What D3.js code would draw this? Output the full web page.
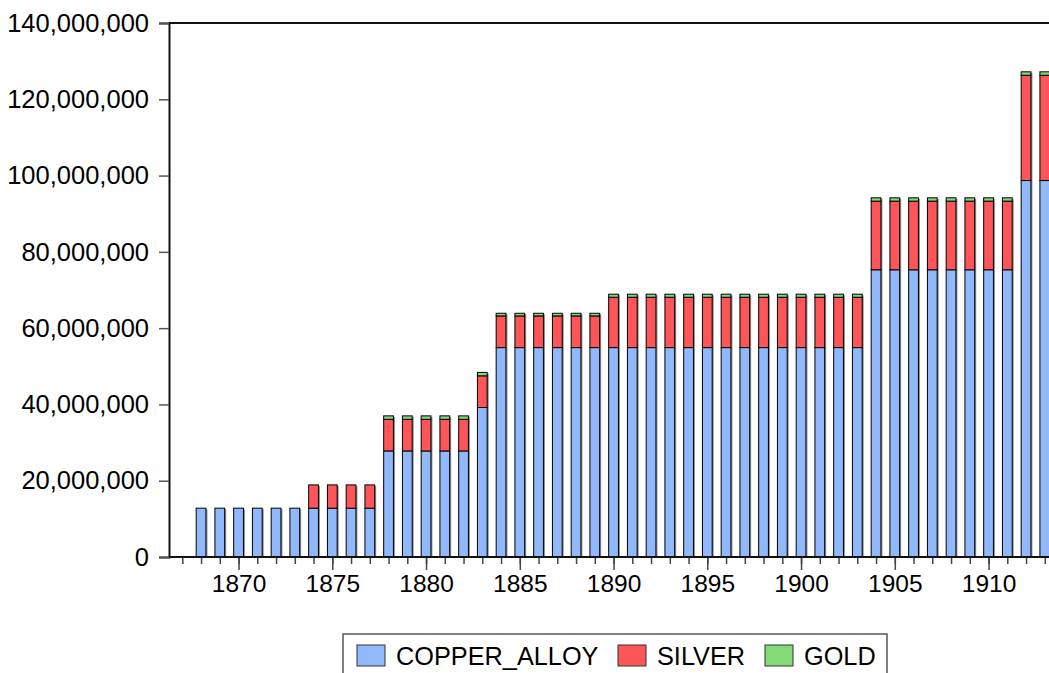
<!DOCTYPE html>
<html>
<head>
<meta charset="utf-8">
<script src="https://cdn.jsdelivr.net/npm/d3@7"></script>
<style>
  html, body { margin: 0; padding: 0; background: #fff; }
  svg { display: block; font-family: Arial, 'Liberation Sans', sans-serif; }
</style>
</head>
<body>
<div id="chart"></div>
<script>
// Coin mintage by metal, 1868-1913
const years = d3.range(1868, 1914);
const copperAlloy = [
  12.8e6, 12.8e6, 12.8e6, 12.8e6, 12.8e6, 12.8e6,
  12.8e6, 12.8e6, 12.8e6, 12.8e6,
  27.8e6, 27.8e6, 27.8e6, 27.8e6, 27.8e6,
  39.2e6,
  54.9e6, 54.9e6, 54.9e6, 54.9e6, 54.9e6, 54.9e6,
  54.9e6, 54.9e6, 54.9e6, 54.9e6, 54.9e6, 54.9e6, 54.9e6,
  54.9e6, 54.9e6, 54.9e6, 54.9e6, 54.9e6, 54.9e6, 54.9e6,
  75.3e6, 75.3e6, 75.3e6, 75.3e6, 75.3e6, 75.3e6, 75.3e6, 75.3e6,
  98.7e6, 98.7e6
];
const silver = [
  0, 0, 0, 0, 0, 0,
  6.1e6, 6.1e6, 6.1e6, 6.1e6,
  8.3e6, 8.3e6, 8.3e6, 8.3e6, 8.3e6,
  8.3e6,
  8.3e6, 8.3e6, 8.3e6, 8.3e6, 8.3e6, 8.3e6,
  13.2e6, 13.2e6, 13.2e6, 13.2e6, 13.2e6, 13.2e6, 13.2e6,
  13.2e6, 13.2e6, 13.2e6, 13.2e6, 13.2e6, 13.2e6, 13.2e6,
  18.0e6, 18.0e6, 18.0e6, 18.0e6, 18.0e6, 18.0e6, 18.0e6, 18.0e6,
  27.6e6, 27.6e6
];
const gold = [
  0, 0, 0, 0, 0, 0,
  0, 0, 0, 0,
  0.9e6, 0.9e6, 0.9e6, 0.9e6, 0.9e6,
  0.9e6,
  0.7e6, 0.7e6, 0.7e6, 0.7e6, 0.7e6, 0.7e6,
  0.8e6, 0.8e6, 0.8e6, 0.8e6, 0.8e6, 0.8e6, 0.8e6,
  0.8e6, 0.8e6, 0.8e6, 0.8e6, 0.8e6, 0.8e6, 0.8e6,
  0.87e6, 0.87e6, 0.87e6, 0.87e6, 0.87e6, 0.87e6, 0.87e6, 0.87e6,
  0.9e6, 0.9e6
];
const seriesNames = ['COPPER_ALLOY', 'SILVER', 'GOLD'];
const yTicks = [0, 20e6, 40e6, 60e6, 80e6, 100e6, 120e6, 140e6];

const W = 1049, H = 673;
const plotLeft = 169, plotTop = 23, plotBottom = 557;
const colors = ['#90b8fb', '#fd5558', '#83d977'];
const fontFamily = "Arial, 'Liberation Sans', sans-serif";

const svg = d3.select('#chart').append('svg')
  .attr('width', W).attr('height', H);

const x = d3.scaleLinear().domain([1867, 1913]).range([182.3, 1044.8]);
const step = x(1868) - x(1867);
const bw = step * 0.52;
const y = d3.scaleLinear().domain([0, 140e6]).range([plotBottom, plotTop]);

// stack the three series
const rows = years.map((yr, i) => ({ year: yr, COPPER_ALLOY: copperAlloy[i], SILVER: silver[i], GOLD: gold[i] }));
const stacked = d3.stack().keys(seriesNames)(rows);
const total = d => d.COPPER_ALLOY + d.SILVER + d.GOLD;

// bar shadows
svg.append('g').selectAll('rect')
  .data(rows.filter(d => total(d) > 0))
  .join('rect')
  .attr('x', d => x(d.year) - bw / 2 + 1.5)
  .attr('y', d => y(total(d)) + 1)
  .attr('width', bw)
  .attr('height', d => plotBottom - y(total(d)) - 1)
  .attr('fill', '#8a8a8a');

stacked.forEach((layer, k) => {
  svg.append('g').selectAll('rect')
    .data(layer.filter(d => d[1] > d[0]))
    .join('rect')
    .attr('x', d => x(d.data.year) - bw / 2)
    .attr('y', d => y(d[1]))
    .attr('width', bw)
    .attr('height', d => y(d[0]) - y(d[1]))
    .attr('fill', colors[k])
    .attr('stroke', '#000')
    .attr('stroke-width', 1);
});

// frame
svg.append('line').attr('x1', plotLeft).attr('x2', W).attr('y1', plotTop).attr('y2', plotTop)
  .attr('stroke', '#111').attr('stroke-width', 2);

// y axis
const yAxis = d3.axisLeft(y).tickValues(yTicks).tickFormat(d3.format(',')).tickSize(10).tickPadding(10);
const gy = svg.append('g').attr('transform', `translate(${plotLeft},0)`).call(yAxis);
gy.select('.domain').attr('stroke', '#111').attr('stroke-width', 2);
gy.selectAll('.tick line').attr('stroke', '#555').attr('stroke-width', 1.5);
gy.selectAll('.tick text').attr('font-size', '25.5px').attr('fill', '#000')
  .attr('font-family', fontFamily);

// x axis: minor every year, major every 5
const gxMinor = svg.append('g').attr('transform', `translate(0,${plotBottom})`)
  .call(d3.axisBottom(x).tickValues(d3.range(1867, 1914)).tickSize(7).tickFormat(''));
gxMinor.select('.domain').remove();
gxMinor.selectAll('.tick line').attr('stroke', '#444').attr('stroke-width', 1.5);

const gx = svg.append('g').attr('transform', `translate(0,${plotBottom})`)
  .call(d3.axisBottom(x).tickValues(d3.range(1870, 1914, 5)).tickSize(13).tickPadding(5).tickFormat(d3.format('d')));
gx.select('.domain').remove();
gx.selectAll('.tick line').attr('stroke', '#444').attr('stroke-width', 1.5);
gx.selectAll('.tick text').attr('font-size', '24.5px').attr('fill', '#000')
  .attr('font-family', fontFamily);

svg.append('line').attr('x1', plotLeft).attr('x2', W).attr('y1', plotBottom).attr('y2', plotBottom)
  .attr('stroke', '#111').attr('stroke-width', 2);

// legend
const lg = svg.append('g');
lg.append('rect').attr('x', 343).attr('y', 634).attr('width', 544).attr('height', 60)
  .attr('fill', '#fff').attr('stroke', '#555').attr('stroke-width', 1.5);
const legendX = [357, 618, 765];
seriesNames.forEach((name, i) => {
  lg.append('rect').attr('x', legendX[i]).attr('y', 645).attr('width', 28).attr('height', 21)
    .attr('fill', colors[i]).attr('stroke', '#333').attr('stroke-width', 1);
  lg.append('text').attr('x', legendX[i] + 39).attr('y', 665)
    .attr('font-size', '25.3px').attr('fill', '#000').text(name);
});
</script>
</body>
</html>
